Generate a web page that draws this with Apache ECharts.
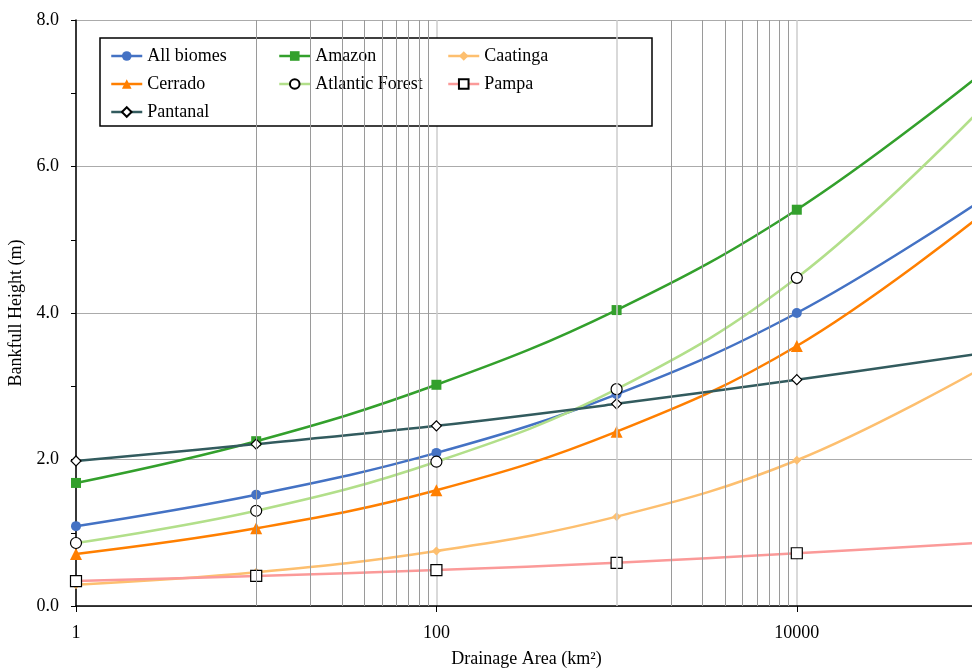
<!DOCTYPE html>
<html>
<head>
<meta charset="utf-8">
<script src="https://cdn.jsdelivr.net/npm/echarts@6/dist/echarts.min.js"></script>
<style>html,body{margin:0;padding:0;background:#fff;}#c{width:972px;height:669px;}</style>
</head>
<body>
<div id="c"></div>
<script>
// ---- data ----
const xValues = [1, 10, 100, 1000, 10000, 100000];
const allBiomes = [1.09, 1.52, 2.09, 2.89, 4.00, 5.50];
const amazon = [1.68, 2.25, 3.02, 4.04, 5.41, 7.22];
const caatinga = [0.29, 0.46, 0.75, 1.22, 1.99, 3.21];
const cerrado = [0.71, 1.06, 1.58, 2.38, 3.55, 5.29];
const atlanticForest = [0.86, 1.30, 1.97, 2.96, 4.48, 6.73];
const pampa = [0.34, 0.41, 0.49, 0.59, 0.72, 0.86];
const pantanal = [1.98, 2.21, 2.46, 2.76, 3.09, 3.44];
const xTickLabels = ['1', '100', '10000'];
const yTickLabels = ['0.0', '2.0', '4.0', '6.0', '8.0'];
const darkGridX = [10, 20, 30, 40, 50, 60, 70, 80, 90, 2000, 3000, 4000, 5000, 6000, 7000, 8000, 9000];
const lightGridX = [1000];

const FONT = 'Liberation Serif';

function pts(arr) {
  return arr.map((v, i) => i === arr.length - 1
    ? { value: [xValues[i], v], symbol: 'none' }
    : [xValues[i], v]);
}

function mkSeries(name, arr, color, symbol, size, fill, border) {
  return {
    name: name,
    type: 'line',
    data: pts(arr),
    smooth: 0.4,
    symbol: symbol,
    symbolSize: size,
    showSymbol: true,
    clip: true,
    z: 3,
    lineStyle: { color: color, width: 2.5 },
    itemStyle: { color: fill || color, borderColor: border || color, borderWidth: border ? 1.2 : 0 },
    emphasis: { disabled: true }
  };
}

const series = [
  {
    name: 'grid',
    type: 'line',
    data: [],
    z: 1,
    silent: true,
    markLine: {
      silent: true,
      symbol: ['none', 'none'],
      label: { show: false },
      animation: false,
      data: darkGridX.map(v => ({ xAxis: v, lineStyle: { color: '#9a9a9a', width: 1, type: 'solid' } }))
        .concat(lightGridX.map(v => ({ xAxis: v, lineStyle: { color: '#cccccc', width: 1.5, type: 'solid' } })))
    }
  },
  mkSeries('All biomes', allBiomes, '#4472C4', 'circle', 10),
  mkSeries('Amazon', amazon, '#33A02C', 'rect', 10),
  mkSeries('Caatinga', caatinga, '#FDBF6F', 'diamond', 9),
  mkSeries('Cerrado', cerrado, '#FF7F00', 'triangle', 12),
  mkSeries('Atlantic Forest', atlanticForest, '#B2DF8A', 'circle', 11, '#ffffff', '#000000'),
  mkSeries('Pampa', pampa, '#FB9A99', 'rect', 11, '#ffffff', '#000000'),
  mkSeries('Pantanal', pantanal, '#325B5E', 'diamond', 10, '#ffffff', '#000000')
];

function legendCol(left, names) {
  return {
    left: left, top: 47, orient: 'vertical', padding: 0,
    itemWidth: 31, itemHeight: 12, itemGap: 10,
    selectedMode: false, z: 5,
    lineStyle: { width: 2.5 },
    textStyle: { fontFamily: FONT, fontSize: 18, color: '#000' },
    data: names
  };
}

const chart = echarts.init(document.getElementById('c'), null, { renderer: 'canvas' });
chart.setOption({
  animation: false,
  backgroundColor: '#fff',
  grid: { left: 76, top: 20, width: 901, height: 586, outerBoundsMode: 'none', containLabel: false },
  graphic: [{
    type: 'rect', z: 4, silent: true,
    shape: { x: 100, y: 38, width: 552, height: 88 },
    style: { fill: '#fff', stroke: '#000', lineWidth: 1.5 }
  }],
  legend: [
    legendCol(110, ['All biomes', 'Cerrado', 'Pantanal']),
    legendCol(278, ['Amazon', 'Atlantic Forest']),
    legendCol(447, ['Caatinga', 'Pampa'])
  ],
  xAxis: {
    type: 'log', logBase: 10, min: 1, max: 100000, interval: 2,
    name: 'Drainage Area (km²)', nameLocation: 'middle', nameGap: 44,
    nameTextStyle: { fontFamily: FONT, fontSize: 18, color: '#000' },
    axisLine: { lineStyle: { color: '#000', width: 1.5 } },
    axisTick: { show: true, inside: false, length: 6, lineStyle: { color: '#000' } },
    axisLabel: {
      fontFamily: FONT, fontSize: 18, color: '#000', margin: 18,
      formatter: v => { const s = String(Math.round(v)); return xTickLabels.indexOf(s) >= 0 ? s : ''; }
    },
    splitLine: { show: true, lineStyle: { color: '#cccccc', width: 1.5 } }
  },
  yAxis: {
    type: 'value', min: 0, max: 8, interval: 2,
    name: 'Bankfull Height (m)', nameLocation: 'middle', nameGap: 40,
    nameTextStyle: { fontFamily: FONT, fontSize: 18, color: '#000' },
    axisLine: { show: true, lineStyle: { color: '#000', width: 1.5 } },
    axisTick: { show: true, inside: false, length: 5, lineStyle: { color: '#000' } },
    minorTick: { show: true, splitNumber: 2, length: 5, lineStyle: { color: '#000' } },
    axisLabel: {
      fontFamily: FONT, fontSize: 18, color: '#000', margin: 17,
      formatter: v => yTickLabels[Math.round(v / 2)]
    },
    splitLine: { show: true, lineStyle: { color: '#ababab', width: 1.2 } }
  },
  series: series
});
</script>
</body>
</html>
